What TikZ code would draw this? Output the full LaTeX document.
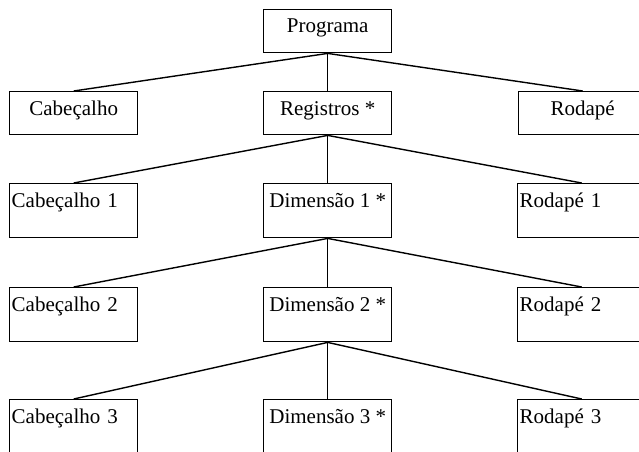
\documentclass[tikz,border=0pt]{standalone}
\usepackage{fontspec}
\setmainfont{Liberation Serif}
\tikzset{
	caixa/.style={draw, line width=1.4pt, inner sep=0pt, minimum width=128pt, text height=24pt, text depth=19pt, anchor=north west, font=\fontsize{21}{25}\selectfont},
	alta/.style={text depth=30pt},
	esq/.style={text width=124pt, align=left, inner xsep=2pt},
	liga/.style={line width=1.4pt}
}
\begin{document}
\begin{tikzpicture}[x=1pt,y=-1pt]
		\useasboundingbox (0,0) rectangle (639,451);
		\clip (0,0) rectangle (639,451);
		\node[caixa, text height=23pt, text depth=20pt] (prog) at (263,9) {Programa};
		\node[caixa] (cab) at (9,91) {Cabeçalho};
		\node[caixa] (reg) at (263,91) {Registros *};
		\node[caixa] (rod) at (518,91) {Rodapé};
		\node[caixa, alta, esq] (cab1) at (9,183) {Cabeçalho 1};
		\node[caixa, alta] (dim1) at (263,183) {Dimensão 1 *};
		\node[caixa, alta, esq] (rod1) at (517,183) {Rodapé 1};
		\node[caixa, alta, esq] (cab2) at (9,287) {Cabeçalho 2};
		\node[caixa, alta] (dim2) at (263,287) {Dimensão 2 *};
		\node[caixa, alta, esq] (rod2) at (517,287) {Rodapé 2};
		\node[caixa, alta, esq] (cab3) at (9,399) {Cabeçalho 3};
		\node[caixa, alta] (dim3) at (263,399) {Dimensão 3 *};
		\node[caixa, alta, esq] (rod3) at (517,399) {Rodapé 3};
		\draw[liga] (prog.south) -- (cab.north);
		\draw[liga] (prog.south) -- (reg.north);
		\draw[liga] (prog.south) -- (rod.north);
		\draw[liga] (reg.south) -- (cab1.north);
		\draw[liga] (reg.south) -- (dim1.north);
		\draw[liga] (reg.south) -- (rod1.north);
		\draw[liga] (dim1.south) -- (cab2.north);
		\draw[liga] (dim1.south) -- (dim2.north);
		\draw[liga] (dim1.south) -- (rod2.north);
		\draw[liga] (dim2.south) -- (cab3.north);
		\draw[liga] (dim2.south) -- (dim3.north);
		\draw[liga] (dim2.south) -- (rod3.north);
	\end{tikzpicture}
\end{document}
